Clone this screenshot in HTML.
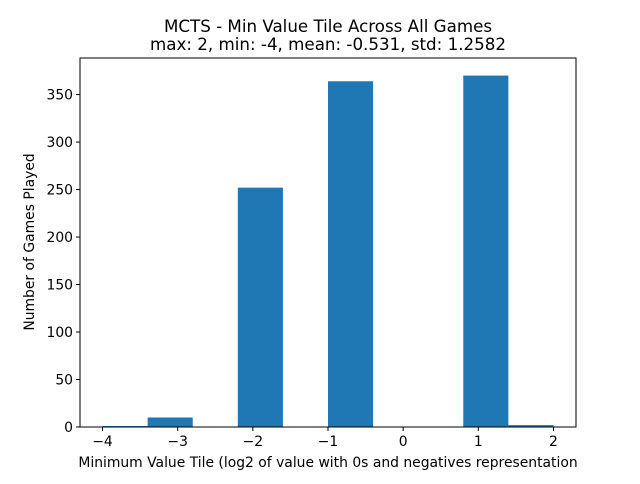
<!DOCTYPE html>
<html><head><meta charset="utf-8"><style>
body{margin:0;background:#fff;font-family:"DejaVu Sans","Liberation Sans",sans-serif;}
svg text{font-family:"DejaVu Sans","Liberation Sans",sans-serif;}
</style></head><body>
<svg id="chart" width="640" height="480" xmlns="http://www.w3.org/2000/svg">
<text x="328" y="32" text-anchor="middle" font-size="16.7">MCTS - Min Value Tile Across All Games</text>
<text x="328" y="50" text-anchor="middle" font-size="16.7">max: 2, min: -4, mean: -0.531, std: 1.2582</text>
<g id="bars"></g>
<rect x="80" y="58" width="496" height="369" fill="none" stroke="#000" stroke-width="1"/>
<g id="xticks"></g><g id="yticks"></g>
<text x="328" y="467" text-anchor="middle" font-size="13.9">Minimum Value Tile (log2 of value with 0s and negatives representation</text>
<text transform="translate(34,242) rotate(-90)" text-anchor="middle" font-size="13.9">Number of Games Played</text>
</svg>
<script>
const binEdges=[-4,-3.4,-2.8,-2.2,-1.6,-1.0,-0.4,0.2,0.8,1.4,2.0];
const counts=[1,10,0,252,0,364,0,0,370,2];
const xTicks=[-4,-3,-2,-1,0,1,2];
const yTicks=[0,50,100,150,200,250,300,350];
const L=80,R=576,T=58,B=427;
const xmin=-4.3,xmax=2.3,ymax=Math.max(...counts)*1.05;
const sx=v=>L+(v-xmin)/(xmax-xmin)*(R-L);
const sy=v=>B-v/ymax*(B-T);
const NS="http://www.w3.org/2000/svg";
const mk=(t,a)=>{const e=document.createElementNS(NS,t);for(const k in a)e.setAttribute(k,a[k]);return e;};
const bars=document.getElementById('bars');
counts.forEach((c,i)=>{
 const r=mk('rect',{x:sx(binEdges[i]),y:sy(c),width:sx(binEdges[i+1])-sx(binEdges[i]),height:B-sy(c),fill:'#1f77b4'});
 
 
 bars.appendChild(r);
});
const xt=document.getElementById('xticks');
xTicks.forEach(v=>{
 const x=sx(v);
 const l=mk('line',{x1:x,x2:x,y1:B,y2:B+4,stroke:'#000'});
 
 
 xt.appendChild(l);
 const t=mk('text',{x:x,y:B+19,'text-anchor':'middle','font-size':'13.9'});
 t.textContent=v<0?'\u2212'+Math.abs(v):v;
 
 
 xt.appendChild(t);
});
const yt=document.getElementById('yticks');
yTicks.forEach(v=>{
 const y=sy(v);
 const l=mk('line',{x1:L-4,x2:L,y1:y,y2:y,stroke:'#000'});
 
 
 yt.appendChild(l);
 const t=mk('text',{x:L-7,y:y+5,'text-anchor':'end','font-size':'13.9'});
 t.textContent=v;
 
 
 yt.appendChild(t);
});
</script>
</body></html>
